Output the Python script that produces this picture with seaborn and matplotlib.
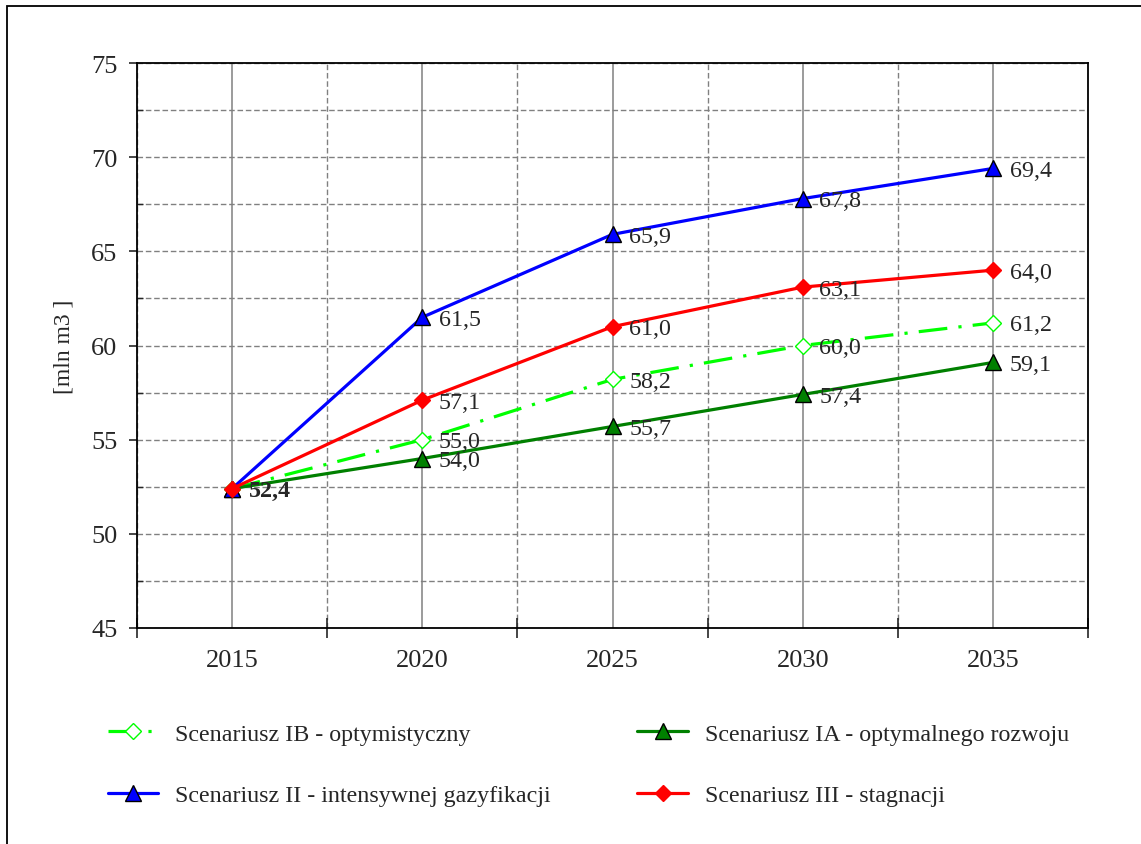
import numpy as np
import pandas as pd
import seaborn as sns
import matplotlib.pyplot as plt
from matplotlib.patches import Rectangle

# chart data
years = ['2015', '2020', '2025', '2030', '2035']
scen_ib = [52.4, 55.0, 58.2, 60.0, 61.2]
scen_ia = [52.4, 54.0, 55.7, 57.4, 59.1]
scen_ii = [52.4, 61.5, 65.9, 67.8, 69.4]
scen_iii = [52.4, 57.1, 61.0, 63.1, 64.0]

lab_ib = 'Scenariusz IB - optymistyczny'
lab_ia = 'Scenariusz IA - optymalnego rozwoju'
lab_ii = 'Scenariusz II - intensywnej gazyfikacji'
lab_iii = 'Scenariusz III - stagnacji'

sns.set_style('white')
plt.rcParams['font.family'] = ['Liberation Serif', 'DejaVu Serif']

fig = plt.figure(figsize=(11.41, 8.45), dpi=100)
ax = fig.add_axes([137/1141, 1 - 629/845, (1088-137)/1141, (629-64)/845])

# outer frame (right/bottom edges cut off in reference)
fig.patches.append(Rectangle((7/1141, -0.2), 1.2, 1 - 7/845 + 0.2, transform=fig.transFigure,
                             fill=False, edgecolor='black', linewidth=1.3))

df = pd.DataFrame({'year': years, 'ib': scen_ib, 'ia': scen_ia, 'ii': scen_ii, 'iii': scen_iii})

series = [
    ('ib', lab_ib, '#00FF00', 'D', 'white', '#00FF00', (0, (9, 3.5, 1, 3.5)), 8.5),
    ('ia', lab_ia, '#008000', '^', '#008000', 'black', '-', 11),
    ('ii', lab_ii, '#0000FF', '^', '#0000FF', 'black', '-', 11),
    ('iii', lab_iii, '#FF0000', 'D', '#FF0000', '#FF0000', '-', 8.5),
]
handles = {}
for col, lab, color, mk, mfc, mec, ls, ms in series:
    sns.lineplot(data=df, x='year', y=col, ax=ax, color=color, linewidth=2.3, linestyle=ls,
                 marker=mk, markersize=ms, markerfacecolor=mfc, markeredgecolor=mec,
                 markeredgewidth=1.0, label=lab, legend=False, zorder=3)
    handles[col] = ax.lines[-1]
    vals = df[col].tolist()
    for i, v in enumerate(vals):
        if i == 0:
            continue
        ax.annotate(f'{v:.1f}'.replace('.', ','), (i, v), xytext=(12, -1.5),
                    textcoords='offset points', ha='left', va='center', fontsize=17.3, zorder=4)

ax.annotate(f'{scen_ib[0]:.1f}'.replace('.', ','), (0, scen_ib[0]), xytext=(12, -1.5),
            textcoords='offset points', ha='left', va='center', fontsize=17.3,
            fontweight='bold', zorder=4)

ax.set_xlim(-0.5, 4.5)
ax.set_ylim(45, 75)
ax.set_xticks(np.arange(-0.5, 5, 1), labels=[''] * 6)
ax.set_xticks(range(5), labels=years, minor=True)
ax.set_yticks(np.arange(45, 76, 5))
ax.set_yticks(np.arange(47.5, 75, 2.5), minor=True)
ax.tick_params(axis='x', which='major', direction='inout', length=14, width=1.2, bottom=True)
ax.tick_params(axis='x', which='minor', length=0, pad=15, labelsize=19)
ax.tick_params(axis='y', which='major', direction='out', length=6, width=1.2, left=True,
               pad=8, labelsize=19)
ax.tick_params(axis='y', which='minor', direction='in', length=4, width=1, left=True)

ax.grid(which='minor', axis='x', color='#808080', linestyle='-', linewidth=1.1)
ax.grid(which='major', axis='x', color='#808080', linestyle=(0, (4, 2)), linewidth=1)
ax.grid(which='both', axis='y', color='#808080', linestyle=(0, (4, 2)), linewidth=1)
ax.set_axisbelow(True)
for s in ax.spines.values():
    s.set_color('black')
    s.set_linewidth(1.3)

ax.set_xlabel('')
ax.set_ylabel('[mln m3 ]', fontsize=17)
ax.yaxis.set_label_coords(-0.066, 0.5)

order = ['ib', 'ii', 'ia', 'iii']
names = {s[0]: s[1] for s in series}
fig.legend([handles[k] for k in order], [names[k] for k in order],
           ncol=2, loc='upper left', bbox_to_anchor=(108/1141, 1 - 724/845),
           frameon=False, fontsize=17.3, handlelength=2.1, handletextpad=0.7,
           columnspacing=3.6, labelspacing=1.65, borderpad=0, borderaxespad=0)

fig.savefig('out.png', dpi=100)
